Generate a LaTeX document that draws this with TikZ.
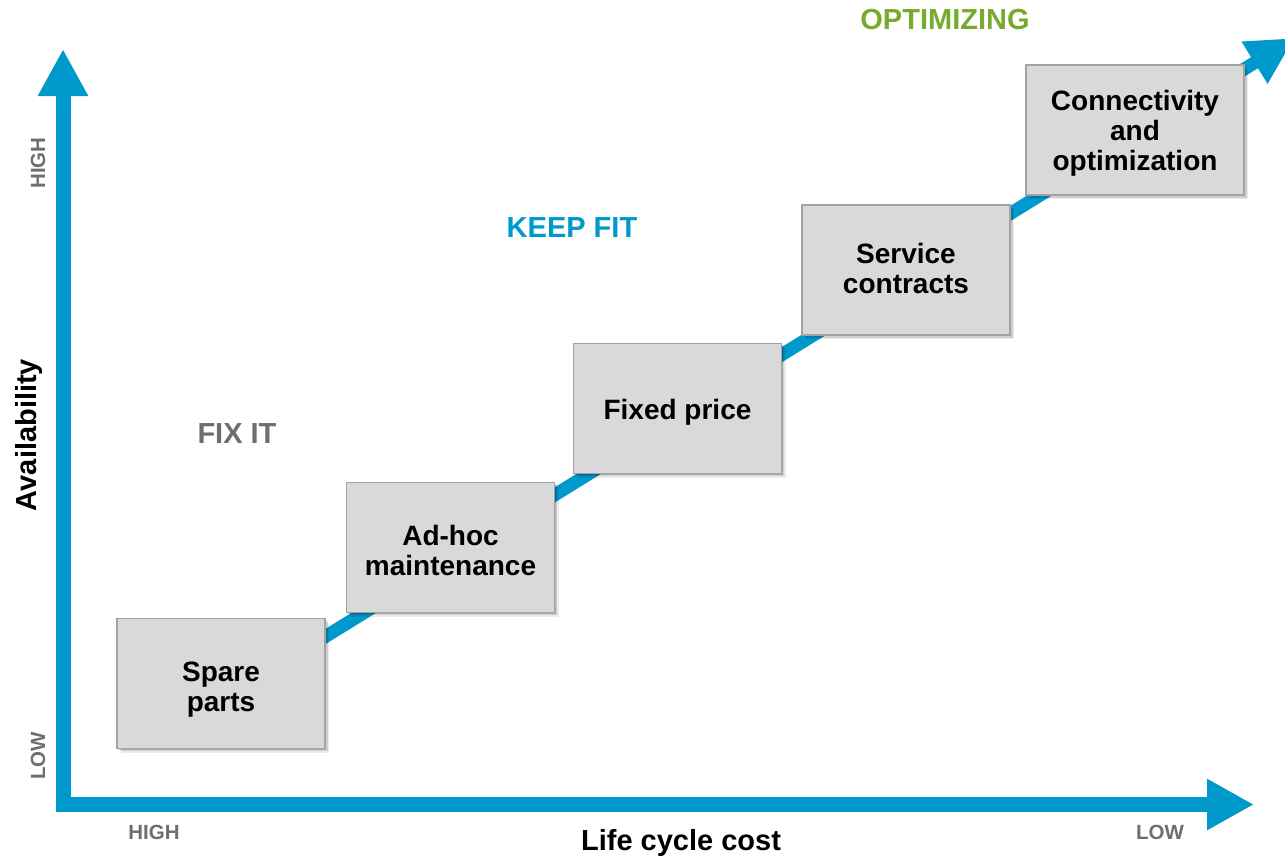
\documentclass[tikz,border=0pt]{standalone}
\usepackage{fontspec}
\setmainfont{Liberation Sans}
\usetikzlibrary{arrows.meta,shadows}
\definecolor{axisblue}{HTML}{0099CC}
\definecolor{optgreen}{HTML}{77AB2F}
\definecolor{labgray}{HTML}{6D6E71}
\definecolor{boxfill}{HTML}{D9D9D9}
\definecolor{boxline}{HTML}{A3A3A3}
\tikzset{
  stagebox/.style={draw=boxline, line width=1.5pt, fill=boxfill,
    minimum width=208pt, minimum height=130pt,
    general shadow={shadow xshift=4pt, shadow yshift=-4pt, fill=black, opacity=0.08},
    general shadow={shadow xshift=2.5pt, shadow yshift=-2.5pt, fill=black, opacity=0.12},
    general shadow={shadow xshift=1.2pt, shadow yshift=-1.2pt, fill=black, opacity=0.15}},
  stagetext/.style={align=center, text=black,
    font=\fontsize{28}{30}\selectfont\bfseries},
  zonelabel/.style={font=\fontsize{29}{30}\selectfont\bfseries},
  ticklabel/.style={font=\fontsize{20.5}{22}\selectfont\bfseries, text=labgray},
  axislabel/.style={font=\fontsize{29}{30}\selectfont\bfseries, text=black},
  axisarrow/.style={draw=axisblue, line width=15pt, line join=miter,
    {Triangle[length=47pt,width=47pt]}-{Triangle[length=47pt,width=48pt]}},
  trend/.style={draw=axisblue, line width=13pt,
    -{Triangle[length=47pt,width=46pt]}}
}
\begin{document}
\begin{tikzpicture}[x=1pt,y=-1pt]
\useasboundingbox (0,0) rectangle (1285,860);
% axes
\coordinate (ytip) at (63,49);
\coordinate (origin) at (63,804.5);
\coordinate (xtip) at (1254,804.5);
\draw[axisarrow] (ytip) -- (origin) -- (xtip);
% trend arrow
\coordinate (tstart) at (221,701);
\coordinate (ttip) at (1294.5,38);
\draw[trend] (tstart) -- (ttip);
% boxes
\node[stagebox, label={[stagetext, yshift=-6pt]center:{Spare\\parts}}] (spare) at (221,683.5) {};
\node[stagebox, label={[stagetext, yshift=-3pt]center:{Ad-hoc\\maintenance}}] (adhoc) at (450.5,547.5) {};
\node[stagebox, label={[stagetext, yshift=-4pt]center:{Fixed price}}] (fixed) at (677.5,408.5) {};
\node[stagebox, label={[stagetext, yshift=2pt]center:{Service\\contracts}}] (service) at (906,270) {};
\node[stagebox, minimum width=218pt, label={[stagetext, yshift=-3pt]center:{Connectivity\\and\\optimization}}] (connect) at (1135,130) {};
% zone labels
\node[zonelabel, text=optgreen] (opt) at (945,20) {OPTIMIZING};
\node[zonelabel, text=axisblue] (keep) at (572,228) {KEEP FIT};
\node[zonelabel, text=labgray] (fix) at (237,434) {FIX IT};
% axis labels
\node[axislabel, rotate=90] (avail) at (29,435) {Availability};
\node[axislabel] (lcc) at (681,843) {Life cycle cost};
\node[ticklabel, rotate=90] (yhigh) at (38,163) {HIGH};
\node[ticklabel, rotate=90] (ylow) at (38,756) {LOW};
\node[ticklabel] (xhigh) at (154,832) {HIGH};
\node[ticklabel] (xlow) at (1160,832) {LOW};
\end{tikzpicture}
\end{document}
